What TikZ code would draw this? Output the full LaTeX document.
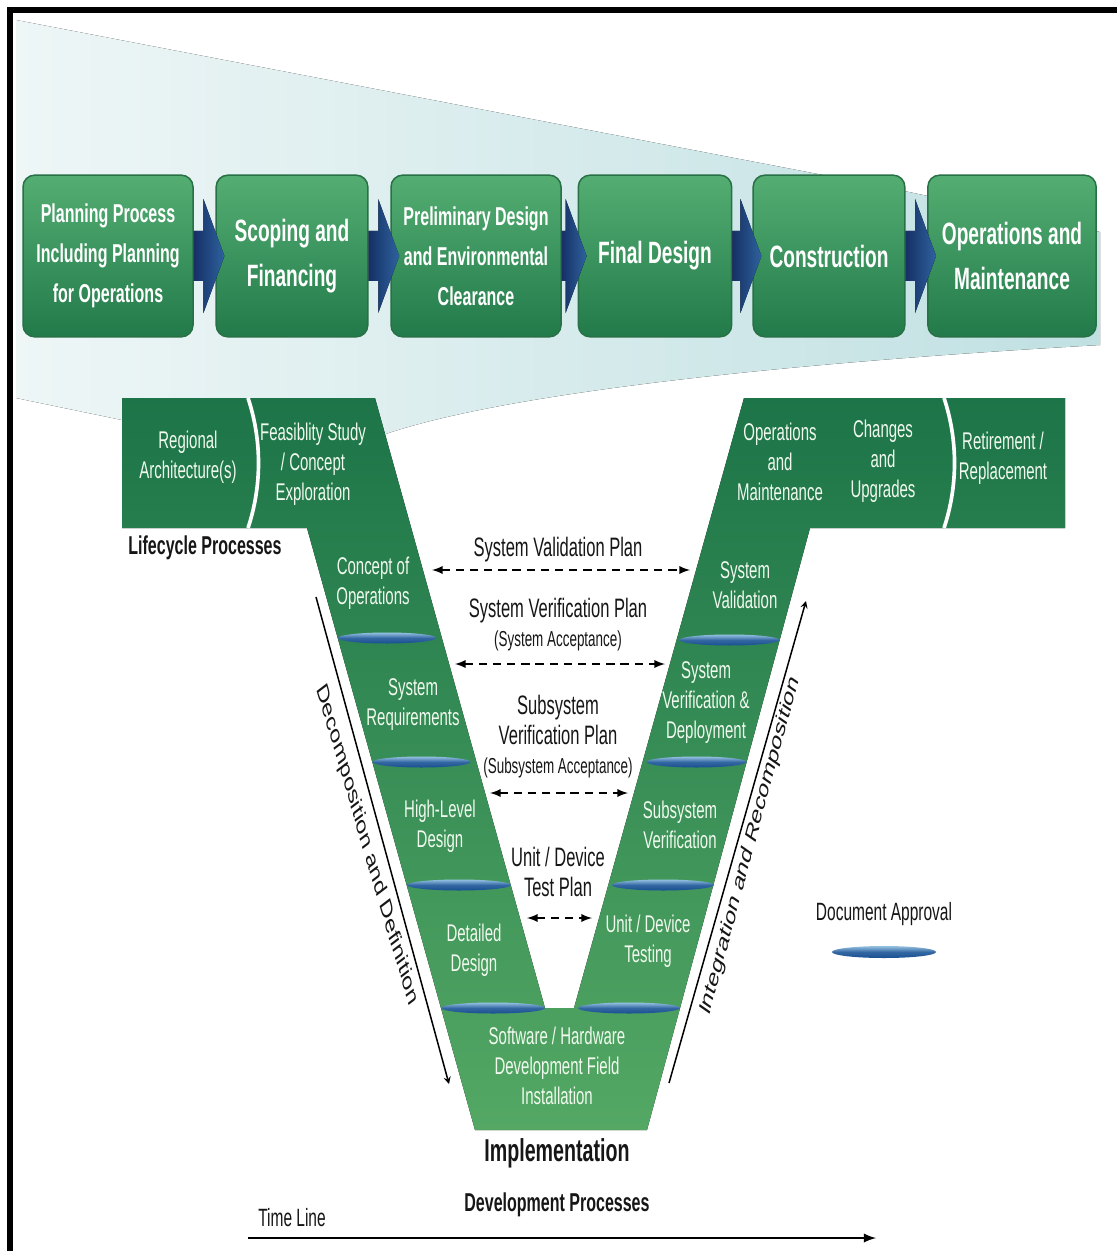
\documentclass[tikz,border=0pt]{standalone}
\usepackage{fontspec}
\newfontfamily\narrowfont[FakeStretch=0.62]{Liberation Sans}
\newfontfamily\plainfont{Liberation Sans}
\usetikzlibrary{positioning,shapes,arrows,calc}

\definecolor{boxtop}{RGB}{84,174,114}
\definecolor{boxbot}{RGB}{34,122,74}
\definecolor{boxedge}{RGB}{40,112,70}
\definecolor{vtop}{RGB}{28,116,72}
\definecolor{vbot}{RGB}{84,168,100}
\definecolor{chevdark}{RGB}{22,48,102}
\definecolor{chevlight}{RGB}{46,98,158}
\definecolor{wedgeL}{RGB}{238,246,246}
\definecolor{wedgeR}{RGB}{192,224,226}
\definecolor{apprdark}{RGB}{26,80,146}
\definecolor{apprlight}{RGB}{150,194,226}
\definecolor{inkgray}{RGB}{22,22,22}
\definecolor{vtext}{RGB}{240,250,238}

\tikzset{
  topbox/.style={rounded corners=7pt, draw=boxedge, line width=0.9pt, top color=boxtop, bottom color=boxbot, text=white, align=center, inner sep=0pt, minimum height=97pt},
  bigtxt/.style={font=\narrowfont\bfseries\fontsize{18.5}{27}\selectfont},
  midtxt/.style={font=\narrowfont\bfseries\fontsize{15.5}{24}\selectfont},
  chev/.style={left color=chevdark, right color=chevlight},
  approval/.style={top color=apprlight, bottom color=apprdark, middle color=apprdark!80!apprlight},
  plan/.style={line width=1.2pt, dash pattern=on 5pt off 3.5pt, <->, >=latex},
  flow/.style={line width=0.9pt, ->, >=stealth},
  sidetxt/.style={text=inkgray, inner sep=0pt, transform shape, font=\plainfont\fontsize{16.2}{18}\selectfont}
}

\begin{document}
\begin{tikzpicture}[x=0.6pt, y=-0.6pt]
		\useasboundingbox (0,0) rectangle (1117,1251);
		\fill[white] (0,0) rectangle (1117,1251);
		\fill[left color=wedgeL, right color=wedgeR] (16,20) -- (880,186) -- (1100,232) -- (1100,345)
			.. controls (800,362) and (500,392) .. (377,437) -- (250,470) -- (122,420) -- (16,398) -- cycle;
		\draw[line width=3.6pt] (10,1251) -- (10,10) -- (1117,10);
		
		\begin{scope}[every node/.style={topbox}]
			\node[midtxt, minimum width=102pt] (plan) at (108,256) {Planning Process\\Including Planning\\for Operations};
			\node[bigtxt, minimum width=91pt] (scoping) at (292,256) {Scoping and\\Financing};
			\node[midtxt, minimum width=102pt] (prelim) at (476,256) {Preliminary Design\\and Environmental\\Clearance};
			\node[bigtxt, minimum width=92pt] (final) at (655,256) {Final Design};
			\node[bigtxt, minimum width=91pt] (constr) at (829,256) {Construction};
			\node[bigtxt, minimum width=101pt] (opsmaint) at (1012,256) {Operations and\\Maintenance};
		\end{scope}
		
		\fill[chev] ($(plan.east)+(0,-25)$) -- ($(scoping.west)+(-12,-25)$) -- ($(scoping.west)+(-12,-57)$) -- ($(scoping.west)+(9,0)$)
			-- ($(scoping.west)+(-12,57)$) -- ($(scoping.west)+(-12,25)$) -- ($(plan.east)+(0,25)$) -- cycle;
		\fill[chev] ($(scoping.east)+(0,-25)$) -- ($(prelim.west)+(-12,-25)$) -- ($(prelim.west)+(-12,-57)$) -- ($(prelim.west)+(9,0)$)
			-- ($(prelim.west)+(-12,57)$) -- ($(prelim.west)+(-12,25)$) -- ($(scoping.east)+(0,25)$) -- cycle;
		\fill[chev] ($(prelim.east)+(0,-25)$) -- ($(final.west)+(-12,-25)$) -- ($(final.west)+(-12,-57)$) -- ($(final.west)+(9,0)$)
			-- ($(final.west)+(-12,57)$) -- ($(final.west)+(-12,25)$) -- ($(prelim.east)+(0,25)$) -- cycle;
		\fill[chev] ($(final.east)+(0,-25)$) -- ($(constr.west)+(-12,-25)$) -- ($(constr.west)+(-12,-57)$) -- ($(constr.west)+(9,0)$)
			-- ($(constr.west)+(-12,57)$) -- ($(constr.west)+(-12,25)$) -- ($(final.east)+(0,25)$) -- cycle;
		\fill[chev] ($(constr.east)+(0,-25)$) -- ($(opsmaint.west)+(-12,-25)$) -- ($(opsmaint.west)+(-12,-57)$) -- ($(opsmaint.west)+(9,0)$)
			-- ($(opsmaint.west)+(-12,57)$) -- ($(opsmaint.west)+(-12,25)$) -- ($(constr.east)+(0,25)$) -- cycle;
		
		% the V
		\fill[top color=vtop, bottom color=vbot] (122,398) -- (375,398) -- (545,1008) -- (574,1008) -- (744,398) -- (1065,398)
			-- (1065,528) -- (810,528) -- (647,1130) -- (475,1130) -- (307,528) -- (122,528) -- cycle;
		\draw[white, line width=2.2pt] (248,398) .. controls (262,440) and (262,486) .. (248,528);
		\draw[white, line width=2.2pt] (944,398) .. controls (958,440) and (958,486) .. (944,528);
		
		\shade[approval] (387,638) ellipse (49 and 5.5);
		\shade[approval] (421.5,762) ellipse (49 and 5.5);
		\shade[approval] (459,885) ellipse (52 and 5.5);
		\shade[approval] (493,1008) ellipse (52 and 5.5);
		\shade[approval] (729.5,640) ellipse (50 and 5.5);
		\shade[approval] (696.5,762) ellipse (50 and 5.5);
		\shade[approval] (663,885) ellipse (51 and 5.5);
		\shade[approval] (629,1008) ellipse (51 and 5.5);
		\shade[approval] (884,952) ellipse (52 and 6);
		
		\begin{scope}[every node/.style={text=vtext, align=center, inner sep=0pt, font=\narrowfont\fontsize{14.5}{18}\selectfont}]
			\node (regional) at (188,457) {Regional\\Architecture(s)};
			\node (feasib) at (313,464) {Feasiblity Study\\/ Concept\\Exploration};
			\node (opsm) at (780,462) {Operations\\and\\Maintenance};
			\node (changes) at (883,461) {Changes\\and\\Upgrades};
			\node (retire) at (1003,458) {Retirement /\\Replacement};
			\node (conops) at (373,583) {Concept of\\Operations};
			\node (sysreq) at (413,705) {System\\Requirements};
			\node (hld) at (440,826) {High-Level\\Design};
			\node (detail) at (474,950) {Detailed\\Design};
			\node (swhw) at (557,1066) {Software / Hardware\\Development Field\\Installation};
			\node (sysval) at (745,585) {System\\Validation};
			\node (sysver) at (706,703) {System\\Verification \&\\Deployment};
			\node (subver) at (680,825) {Subsystem\\Verification};
			\node (unitdev) at (648,941) {Unit / Device\\Testing};
		\end{scope}
		
		\begin{scope}[every node/.style={text=inkgray, align=center, inner sep=0pt, font=\narrowfont\fontsize{16}{18}\selectfont}]
			\node[font=\narrowfont\bfseries\fontsize{15.5}{18}\selectfont] (lifecycle) at (205,548) {Lifecycle Processes};
			\node (valplan) at (558,550) {System Validation Plan};
			\node (verplan) at (558,611) {System Verification Plan};
			\node[font=\narrowfont\fontsize{13}{16}\selectfont] (veracc) at (558,641) {(System Acceptance)};
			\node (subplan) at (558,720) {Subsystem\\Verification Plan};
			\node[font=\narrowfont\fontsize{13}{16}\selectfont] (subacc) at (558,768) {(Subsystem Acceptance)};
			\node (unitplan) at (558,872) {Unit / Device\\Test Plan};
			\node[font=\narrowfont\bfseries\fontsize{19}{22}\selectfont] (impl) at (557,1153) {Implementation};
			\node[font=\narrowfont\bfseries\fontsize{15.5}{18}\selectfont] (devproc) at (557,1205) {Development Processes};
			\node[font=\narrowfont\fontsize{15}{18}\selectfont] (timeline) at (292,1218) {Time Line};
			\node[font=\narrowfont\fontsize{15}{18}\selectfont] (docappr) at (884,914) {Document Approval};
		\end{scope}
		
		% side labels, squeezed like the rest of the picture
		\begin{scope}[shift={(367,845)}, xscale=0.62]
			\node[sidetxt, rotate=-64.7] (decomp) at (0,0) {Decomposition and Definition};
		\end{scope}
		\begin{scope}[shift={(750,846)}, xscale=0.62]
			\node[sidetxt, rotate=66.7] (integ) at (0,0) {Integration and Recomposition};
		\end{scope}
		
		\coordinate (valL) at (432,570);
		\coordinate (valR) at (690,570);
		\coordinate (verL) at (455,664);
		\coordinate (verR) at (665,664);
		\coordinate (subL) at (490,793);
		\coordinate (subR) at (628,793);
		\coordinate (unitL) at (527,918);
		\coordinate (unitR) at (592,918);
		\draw[plan] (valL) -- (valR);
		\draw[plan] (verL) -- (verR);
		\draw[plan] (subL) -- (subR);
		\draw[plan] (unitL) -- (unitR);
		
		\coordinate (decS) at (316,597);
		\coordinate (decE) at (449,1084);
		\coordinate (intS) at (669,1083);
		\coordinate (intE) at (806,601);
		\coordinate (tlS) at (248,1238);
		\coordinate (tlE) at (876,1238);
		\draw[flow] (decS) -- (decE);
		\draw[flow] (intS) -- (intE);
		\draw[flow, line width=1.5pt, >=latex] (tlS) -- (tlE);
	\end{tikzpicture}
\end{document}
